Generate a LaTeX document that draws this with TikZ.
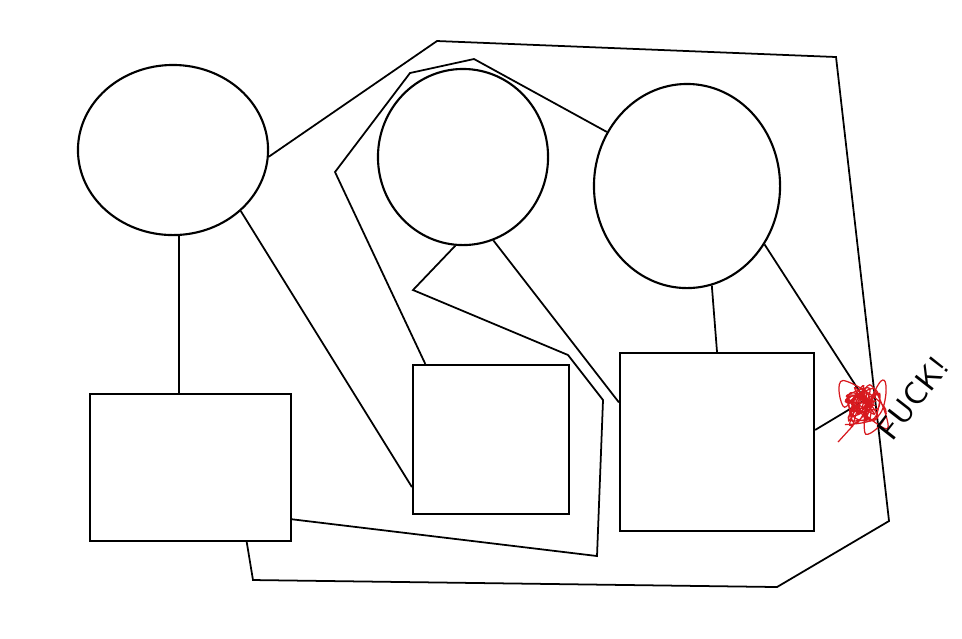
\documentclass[tikz,border=0pt]{standalone}
\usetikzlibrary{shapes.geometric}
\definecolor{scrawl}{RGB}{215,25,30}
\tikzset{
  util/.style={draw, ellipse, line width=0.6pt, inner sep=0pt},
  house/.style={draw, rectangle, line width=0.6pt, inner sep=0pt},
  pipe/.style={line width=0.5pt},
}
\begin{document}
\begin{tikzpicture}[x=0.01cm, y=-0.01cm]
        \useasboundingbox (0,0) rectangle (962,638);

        % the three utilities
        \node[util, minimum width=1.9cm, minimum height=1.7cm] (e1) at (173,150) {};
        \node[util, minimum width=1.7cm, minimum height=1.76cm] (e2) at (463,157) {};
        \node[util, minimum width=1.86cm, minimum height=2.04cm] (e3) at (687,186) {};

        % the three houses
        \node[house, minimum width=2.01cm, minimum height=1.47cm] (b1) at (190.5,467.5) {};
        \node[house, minimum width=1.56cm, minimum height=1.49cm] (b2) at (491,439.5) {};
        \node[house, minimum width=1.94cm, minimum height=1.78cm] (b3) at (717,442) {};

        % connections
        \draw[pipe] (e1.-86) -- (e1.-86 |- b1.north);
        \draw[pipe] (e1.-42) -- (b2.211);
        \draw[pipe] (e1.-4) -- (437,41) -- (836,57) -- (889,521) -- (777,587) -- (253,580) -- (b1.-53);
        \draw[pipe] (b2.131) -- (335,172) -- (410,73) -- (474,59) -- (e3.146);
        \draw[pipe] (e2.-95) -- (413,290) -- (568,355) -- (603,400) -- (597,556) -- (b1.-27);
        \draw[pipe] (e2.-70) -- (b3.158);
        \draw[pipe] (e3.-76) -- (b3.north);

        % the one that does not work
        \coordinate (knot) at (865,400);
        \draw[pipe] (e3.-37) -- (knot);
        \draw[pipe] (b3.7) -- (knot);
        \pgfmathsetseed{23}
        \draw[scrawl, line width=0.35pt] plot[smooth, tension=0.7, domain=1:60, samples=60] ({864+17*rand},{404+17*rand});
        \draw[scrawl, line width=0.35pt] plot[smooth, tension=0.7, domain=1:20, samples=20] ({862+27*rand},{405+30*rand}) -- (838,442);

        \node[rotate=52, font=\sffamily\small] (cry) at (913,398) {FUCK!};
    \end{tikzpicture}
\end{document}
